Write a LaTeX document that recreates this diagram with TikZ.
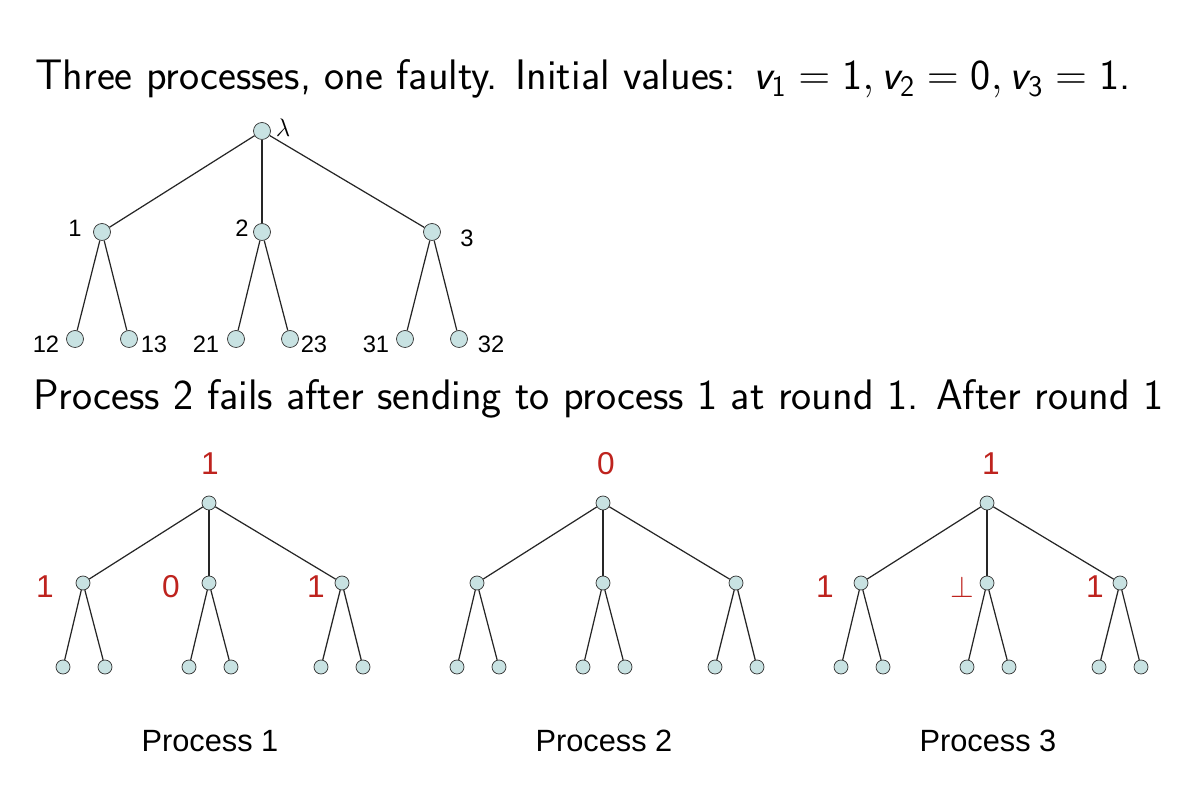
\documentclass[tikz,border=0pt]{standalone}
\usepackage{amsmath, amssymb}
\usepackage{fontspec}
\usepackage{xcolor}
\usepackage{tikz}
\usetikzlibrary{positioning}

\newfontfamily\arial{Liberation Sans}
\definecolor{nodefill}{RGB}{200,226,226}
\definecolor{valred}{RGB}{190,35,30}
\newcommand{\sv}[1]{\textit{v}_{\textsf{#1}}}

\begin{document}
\begin{tikzpicture}[
  x=0.02cm, y=-0.02cm,
  big/.style={draw=black!80, fill=nodefill, circle, inner sep=0pt, minimum size=0.34cm},
  small/.style={draw=black!80, fill=nodefill, circle, inner sep=0pt, minimum size=0.28cm},
  lbl/.style={font=\arial\fontsize{13.5}{16}\selectfont},
  val/.style={font=\arial\fontsize{18}{21}\selectfont, text=valred},
  edge/.style={black!85, line width=0.7pt},
  head/.style={anchor=base west, font=\sffamily\fontsize{24.3}{29}\selectfont, inner sep=0pt}
]
  \useasboundingbox (0,0) rectangle (1201,786);

  \node[head] (title) at (35,90) {Three processes, one faulty. Initial values: $\sv1 = \textsf{1}, \sv2 = \textsf{0}, \sv3 = \textsf{1}$.};

  % tree of processes
  \node[big] (lam) at (262,131) {};
  \node[big] (n1) at (102,232) {};
  \node[big] (n2) at (262,232) {};
  \node[big] (n3) at (432,232) {};
  \node[big] (n12) at (75,339) {};
  \node[big] (n13) at (129,339) {};
  \node[big] (n21) at (236,339) {};
  \node[big] (n23) at (290,339) {};
  \node[big] (n31) at (405,339) {};
  \node[big] (n32) at (459,339) {};

  \node[lbl] (llam) at (283,128) {$\lambda$};
  \node[lbl] (l1) at (75,228) {1};
  \node[lbl] (l2) at (242,228) {2};
  \node[lbl] (l3) at (467,238) {3};
  \node[lbl] (l12) at (46,344) {12};
  \node[lbl] (l13) at (154,344) {13};
  \node[lbl] (l21) at (206,344) {21};
  \node[lbl] (l23) at (314,344) {23};
  \node[lbl] (l31) at (376,344) {31};
  \node[lbl] (l32) at (491,344) {32};

  \draw[edge] (lam) -- (n1);
  \draw[edge] (lam) -- (n2);
  \draw[edge] (lam) -- (n3);
  \draw[edge] (n1) -- (n12);
  \draw[edge] (n1) -- (n13);
  \draw[edge] (n2) -- (n21);
  \draw[edge] (n2) -- (n23);
  \draw[edge] (n3) -- (n31);
  \draw[edge] (n3) -- (n32);

  \node[head] (sub) at (33,410) {Process 2 fails after sending to process 1 at round 1. After round 1};

  % the three local trees
  \foreach \p/\cx in {1/209, 2/603, 3/987} {
    \node[small] (p\p r) at (\cx,503) {};
    \node[small] (p\p a) at (\cx-126,583) {};
    \node[small] (p\p b) at (\cx,583) {};
    \node[small] (p\p c) at (\cx+133,583) {};
    \node[small] (p\p a1) at (\cx-146,667) {};
    \node[small] (p\p a2) at (\cx-104,667) {};
    \node[small] (p\p b1) at (\cx-20,667) {};
    \node[small] (p\p b2) at (\cx+22,667) {};
    \node[small] (p\p c1) at (\cx+112,667) {};
    \node[small] (p\p c2) at (\cx+154,667) {};
    \draw[edge] (p\p r) -- (p\p a);
    \draw[edge] (p\p r) -- (p\p b);
    \draw[edge] (p\p r) -- (p\p c);
    \draw[edge] (p\p a) -- (p\p a1);
    \draw[edge] (p\p a) -- (p\p a2);
    \draw[edge] (p\p b) -- (p\p b1);
    \draw[edge] (p\p b) -- (p\p b2);
    \draw[edge] (p\p c) -- (p\p c1);
    \draw[edge] (p\p c) -- (p\p c2);
    \node[font=\arial\fontsize{17.5}{21}\selectfont, anchor=base] (name\p) at (\cx+1,752) {Process \p};
  }

  \node[val] (v1r) at (210,464) {1};
  \node[val] (v1a) at (45,587) {1};
  \node[val] (v1b) at (171,587) {0};
  \node[val] (v1c) at (316,587) {1};
  \node[val] (v2r) at (606,464) {0};
  \node[val] (v3r) at (991,464) {1};
  \node[val] (v3a) at (825,587) {1};
  \node[val] (v3b) at (962,587) {$\bot$};
  \node[val] (v3c) at (1095,587) {1};
\end{tikzpicture}
\end{document}
